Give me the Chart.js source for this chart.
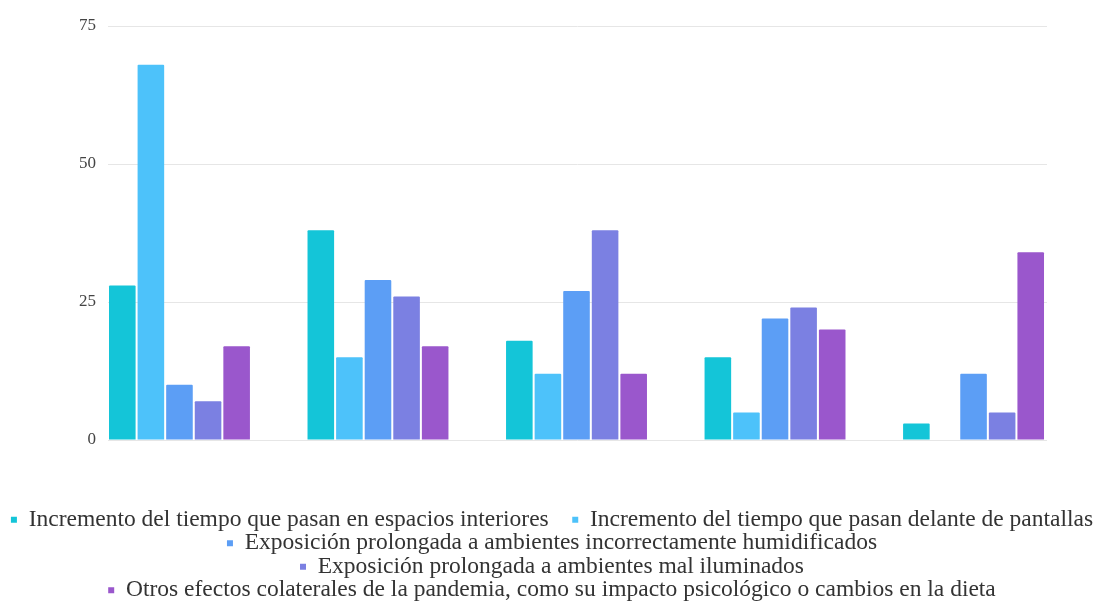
<!DOCTYPE html>
<html>

<head>
    <title>Efectos</title>
    <script src="https://cdn.jsdelivr.net/npm/chart.js@4.4.0/dist/chart.umd.min.js"></script>
    <style>
        html,
        body {
            margin: 0;
            padding: 0;
            background: #ffffff;
            overflow: hidden;
        }
        
        #chart-box {
            width: 1104px;
            height: 607px;
        }
    </style>
</head>

<body>
    <div id="chart-box">
        <canvas id="effects-canvas"></canvas>
    </div>
    <script>
        // Five groups, one bar per cause in each group
        var groups = [0, 1, 2, 3, 4];
        var seriesNames = [
            "Incremento del tiempo que pasan en espacios interiores",
            "Incremento del tiempo que pasan delante de pantallas",
            "Exposición prolongada a ambientes incorrectamente humidificados",
            "Exposición prolongada a ambientes mal iluminados",
            "Otros efectos colaterales de la pandemia, como su impacto psicológico o cambios en la dieta"
        ];
        var interiores = [28, 38, 18, 15, 3];
        var pantallas = [68, 15, 12, 5, 0];
        var humidificados = [10, 29, 27, 22, 12];
        var iluminados = [7, 26, 38, 24, 5];
        var otros = [17, 17, 12, 20, 34];
        var yTicks = [0, 25, 50, 75];

        var seriesValues = [interiores, pantallas, humidificados, iluminados, otros];
        var seriesColors = ['#14c5d8', '#4dc2fa', '#5c9ef5', '#7b80e2', '#9a57cc'];

        var serif = "'Liberation Serif', 'Times New Roman', serif";

        var datasets = seriesValues.map(function(values, i) {
            return {
                label: seriesNames[i],
                data: values.map(function(v, j) {
                    return {
                        x: groups[j],
                        y: v
                    };
                }),
                backgroundColor: seriesColors[i],
                borderWidth: 0,
                borderRadius: 1,
                categoryPercentage: 0.72,
                barPercentage: 0.93
            };
        });

        // legend rows sit tight, so the first entry carries its own gap
        function legendLabels(chart) {
            var items = Chart.defaults.plugins.legend.labels.generateLabels(chart);
            items[0].text = items[0].text + '\u2003';
            return items;
        }

        var ctx = document.getElementById('effects-canvas').getContext('2d');
        var effectsChart = new Chart(ctx, {
            type: 'bar',
            data: {
                datasets: datasets
            },
            options: {
                responsive: true,
                maintainAspectRatio: false,
                animation: false,
                layout: {
                    padding: {
                        top: 26,
                        right: 0,
                        bottom: -5,
                        left: 0
                    }
                },
                plugins: {
                    tooltip: {
                        enabled: false
                    },
                    legend: {
                        position: 'bottom',
                        labels: {
                            boxWidth: 6,
                            boxHeight: 6,
                            padding: 0,
                            color: '#333333',
                            generateLabels: legendLabels,
                            font: {
                                family: serif,
                                size: 23.5
                            }
                        }
                    }
                },
                scales: {
                    x: {
                        type: 'linear',
                        offset: false,
                        min: -0.36,
                        max: 4.37,
                        grid: {
                            display: false
                        },
                        border: {
                            display: false
                        },
                        ticks: {
                            display: false,
                            stepSize: 1,
                            includeBounds: false
                        },
                        afterFit: function(scale) {
                            scale.height = 68;
                        }
                    },
                    y: {
                        min: 0,
                        max: 75,
                        border: {
                            display: false
                        },
                        grid: {
                            color: '#e6e6e6',
                            drawTicks: false
                        },
                        afterBuildTicks: function(scale) {
                            scale.ticks = yTicks.map(function(v) {
                                return {
                                    value: v
                                };
                            });
                        },
                        afterFit: function(scale) {
                            scale.width = 108;
                        },
                        ticks: {
                            padding: 12,
                            color: '#444444',
                            font: {
                                family: serif,
                                size: 17
                            }
                        }
                    },
                    // empty axis on the right keeps a margin beside the plot
                    yRight: {
                        position: 'right',
                        min: 0,
                        max: 75,
                        grid: {
                            display: false
                        },
                        border: {
                            display: false
                        },
                        ticks: {
                            display: false
                        },
                        afterFit: function(scale) {
                            scale.width = 57;
                        }
                    }
                }
            }
        });
    </script>
</body>

</html>
